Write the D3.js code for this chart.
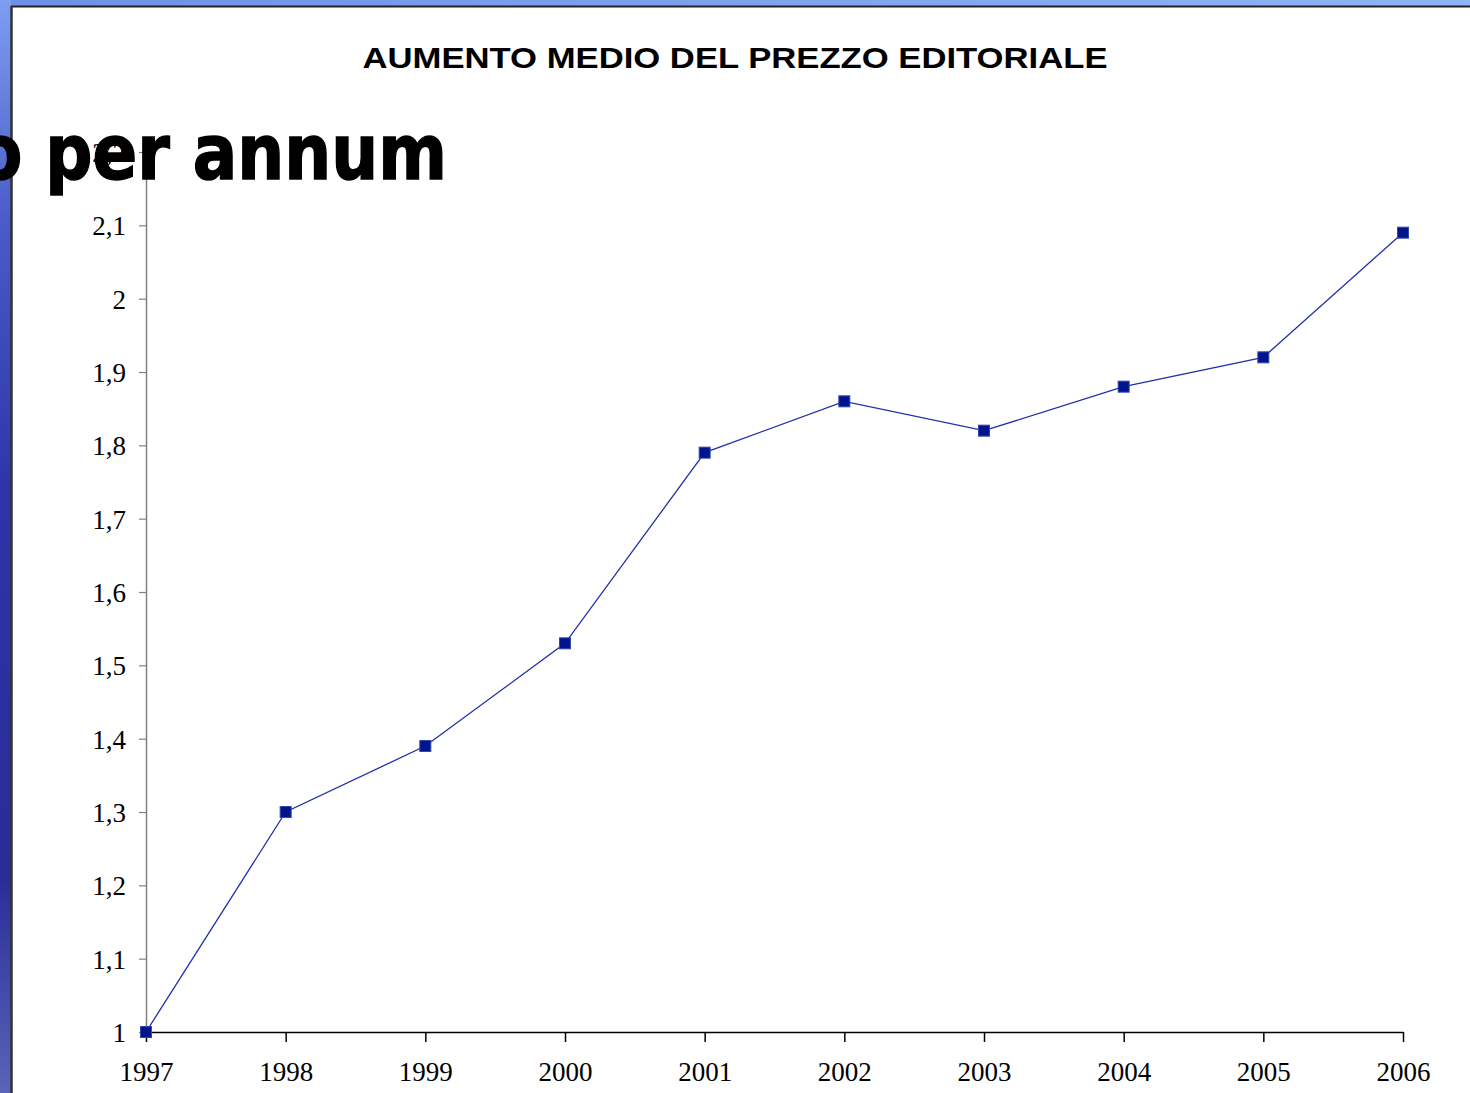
<!DOCTYPE html>
<html>
<head>
<meta charset="utf-8">
<script src="https://cdn.jsdelivr.net/npm/d3@7"></script>
<style>
  body { margin: 0; background: #fff; }
  svg { display: block; }
</style>
</head>
<body>
<svg id="drawing_region"></svg>
<script>
// data
const years = [1997, 1998, 1999, 2000, 2001, 2002, 2003, 2004, 2005, 2006];
const values = [1.0, 1.30, 1.39, 1.53, 1.79, 1.86, 1.82, 1.88, 1.92, 2.09];
const yTicks = [1, 1.1, 1.2, 1.3, 1.4, 1.5, 1.6, 1.7, 1.8, 1.9, 2, 2.1, 2.2];
const chartTitle = 'AUMENTO MEDIO DEL PREZZO EDITORIALE';
const slideText = 'o per annum';

const data = years.map((y, i) => ({ year: y, value: values[i] }));

const width = 1470, height = 1093;
const svg = d3.select('#drawing_region').attr('width', width).attr('height', height);

// slide background: blue gradient strips on left and top
const defs = svg.append('defs');
const gl = defs.append('linearGradient').attr('id', 'leftGrad').attr('x1', 0).attr('y1', 0).attr('x2', 0).attr('y2', 1);
gl.append('stop').attr('offset', '0%').attr('stop-color', '#7e9ef0');
gl.append('stop').attr('offset', '20%').attr('stop-color', '#4a5cc8');
gl.append('stop').attr('offset', '45%').attr('stop-color', '#2e34a8');
gl.append('stop').attr('offset', '80%').attr('stop-color', '#2a2c96');
gl.append('stop').attr('offset', '100%').attr('stop-color', '#5a64b8');
const gt = defs.append('linearGradient').attr('id', 'topGrad').attr('x1', 0).attr('y1', 0).attr('x2', 1).attr('y2', 0);
gt.append('stop').attr('offset', '0%').attr('stop-color', '#6f8fe6');
gt.append('stop').attr('offset', '100%').attr('stop-color', '#8db4f6');

svg.append('rect').attr('x', 0).attr('y', 0).attr('width', width).attr('height', 6).attr('fill', 'url(#topGrad)');
svg.append('rect').attr('x', 0).attr('y', 0).attr('width', 11).attr('height', height).attr('fill', 'url(#leftGrad)');
// chart frame edge
svg.append('line').attr('x1', 11).attr('x2', width).attr('y1', 6.5).attr('y2', 6.5).attr('stroke', '#222').attr('stroke-width', 2);
svg.append('line').attr('x1', 11.5).attr('x2', 11.5).attr('y1', 6).attr('y2', height).attr('stroke', '#333').attr('stroke-width', 2.5);

// scales
const xscale = d3.scaleLinear().domain([1997, 2006]).range([146, 1403]);
const yscale = d3.scaleLinear().domain([1, 2.2]).range([1032, 152]);

// title
svg.append('text')
  .attr('x', 735).attr('y', 68)
  .attr('text-anchor', 'middle')
  .attr('font-family', '"Liberation Sans", Arial, sans-serif')
  .attr('font-weight', 'bold')
  .attr('font-size', 30)
  .attr('textLength', 745)
  .attr('lengthAdjust', 'spacingAndGlyphs')
  .attr('fill', '#000')
  .text(chartTitle);

// y axis
const yaxis = d3.axisLeft(yscale).tickValues(yTicks).tickSize(7).tickSizeOuter(0)
  .tickFormat(d => d3.format('~g')(d).replace('.', ','));
const yg = svg.append('g').attr('transform', 'translate(146,0)').call(yaxis);
yg.select('.domain').attr('stroke', '#808080').attr('stroke-width', 1.5);
yg.selectAll('.tick line').attr('stroke', '#808080').attr('stroke-width', 1.2);
yg.selectAll('.tick text')
  .attr('x', -20)
  .attr('dy', '0.35em')
  .attr('font-family', '"Liberation Serif", "Times New Roman", serif')
  .attr('font-size', 27)
  .attr('fill', '#000');

// x axis
const xaxis = d3.axisBottom(xscale).tickValues(years).tickSize(10).tickSizeOuter(0).tickFormat(d3.format('d'));
const xg = svg.append('g').attr('transform', 'translate(0,1032)').call(xaxis);
xg.select('.domain').attr('stroke', '#000').attr('stroke-width', 1.5);
xg.selectAll('.tick line').attr('stroke', '#000').attr('stroke-width', 1.5);
xg.selectAll('.tick text')
  .attr('y', 30)
  .attr('dy', '0.71em')
  .attr('font-family', '"Liberation Serif", "Times New Roman", serif')
  .attr('font-size', 27)
  .attr('fill', '#000');

// series line
const line = d3.line().x(d => xscale(d.year)).y(d => yscale(d.value));
svg.append('path')
  .attr('d', line(data))
  .attr('fill', 'none')
  .attr('stroke', '#2030a8')
  .attr('stroke-width', 1.3);

// markers
svg.append('g').selectAll('rect').data(data).join('rect')
  .attr('x', d => xscale(d.year) - 5.5)
  .attr('y', d => yscale(d.value) - 5.5)
  .attr('width', 11).attr('height', 11)
  .attr('fill', '#00148c')
  .attr('stroke', '#3348b0')
  .attr('stroke-width', 1);

// slide text overlapping the chart
svg.append('text')
  .attr('x', -23).attr('y', 179)
  .attr('font-family', '"DejaVu Sans", Verdana, sans-serif')
  .attr('font-weight', 'bold')
  .attr('font-size', 76)
  .attr('textLength', 470)
  .attr('lengthAdjust', 'spacingAndGlyphs')
  .attr('fill', '#000')
  .attr('stroke', '#000')
  .attr('stroke-width', 1.5)
  .text(slideText);
</script>
</body>
</html>
